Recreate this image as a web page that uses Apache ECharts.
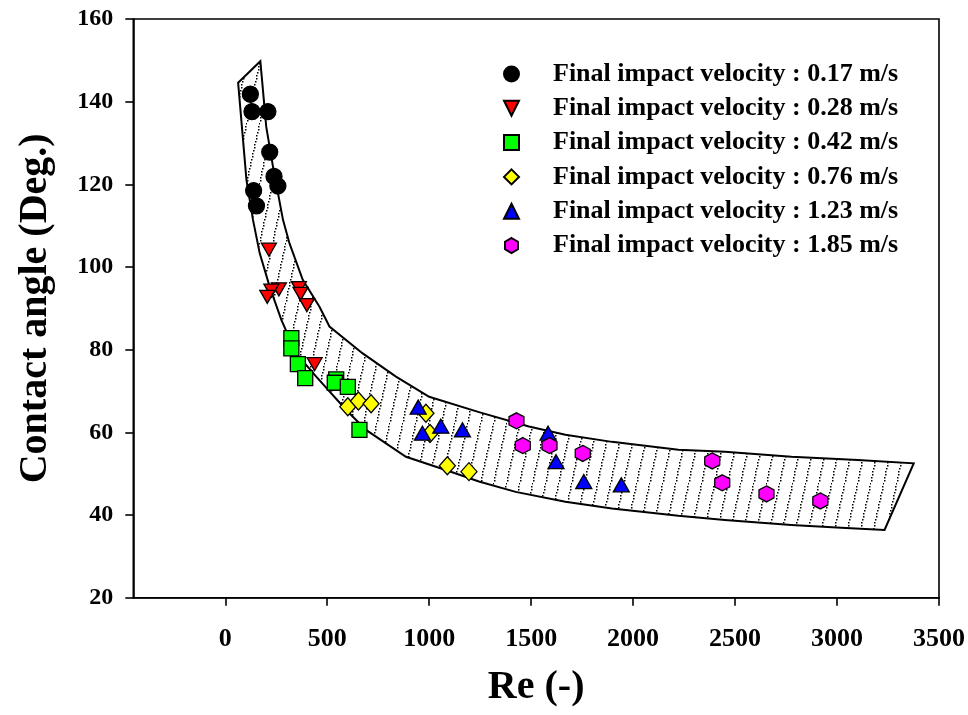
<!DOCTYPE html>
<html>
<head>
<meta charset="utf-8">
<script src="https://cdn.jsdelivr.net/npm/echarts@6/dist/echarts.min.js"></script>
<style>html,body{margin:0;padding:0;background:#fff}#c{width:968px;height:715px}</style>
</head>
<body>
<div id="c"></div>
<script>
// ---- data ----
const xTicks = [0, 500, 1000, 1500, 2000, 2500, 3000, 3500];
const seriesNames = [
  'Final impact velocity : 0.17 m/s',
  'Final impact velocity : 0.28 m/s',
  'Final impact velocity : 0.42 m/s',
  'Final impact velocity : 0.76 m/s',
  'Final impact velocity : 1.23 m/s',
  'Final impact velocity : 1.85 m/s'
];
const re017 = [123, 131, 209, 218, 239, 258, 139, 153];
const ang017 = [141.8, 137.6, 137.6, 127.8, 121.9, 119.6, 118.5, 114.8];
const re028 = [214, 263, 226, 206, 361, 369, 400, 438];
const ang028 = [104.2, 94.6, 94.3, 92.8, 94.9, 93.5, 90.8, 76.5];
const re042 = [324, 324, 356, 392, 544, 537, 601, 658];
const ang042 = [82.8, 80.3, 76.5, 73.1, 72.8, 72.0, 71.0, 60.6];
const re076 = [601, 653, 715, 984, 1004, 1089, 1195];
const ang076 = [66.2, 67.6, 66.9, 64.6, 59.7, 51.9, 50.5];
const re123 = [946, 967, 1057, 1163, 1583, 1622, 1758, 1942];
const ang123 = [66.1, 59.8, 61.5, 60.6, 59.8, 52.9, 48.1, 47.3];
const re185 = [1428, 1459, 1590, 1753, 2388, 2437, 2654, 2918];
const ang185 = [62.8, 56.8, 56.8, 54.9, 53.1, 47.8, 45.1, 43.4];
// band outline (closed polygon: upper edge left->right, lower edge right->left)
const bandRe = [63, 172, 201, 234, 283, 315, 380, 462, 511, 674, 837, 1000, 1244, 1489, 1668, 1896, 2222, 2450, 2776, 3102, 3376,
  3233, 3020, 2776, 2450, 2222, 1896, 1668, 1424, 1244, 1081, 886, 690, 593, 446, 348, 275, 218, 169, 136, 104];
const bandAngle = [144.6, 149.8, 133.9, 124.3, 111.4, 105.7, 96.9, 90.4, 85.6, 79.1, 73.5, 68.6, 64.9, 61.4, 59.4, 57.7, 55.8, 55.3, 54.1, 53.3, 52.5,
  36.4, 36.9, 37.6, 38.8, 39.8, 41.6, 43.2, 45.6, 48.1, 50.9, 54.1, 60.6, 65.4, 73.5, 79.1, 87.2, 95.2, 103.3, 111.4, 121.0];

// ---- hatch pattern (dotted slanted lines) ----
const tile = document.createElement('canvas');
tile.width = 13; tile.height = 60;
const tc = tile.getContext('2d');
tc.fillStyle = '#000';
for (let i = 0; i < 20; i++) {
  const t = i / 20;
  tc.fillRect(Math.floor(13 * t), Math.floor(60 - 60 * t) % 60, 1.5, 1.5);
}

const FONT = "'Liberation Serif','Times New Roman',serif";
const zip = (a, b) => a.map((v, i) => [v, b[i]]);
const hexPath = 'path://M0,-1 L0.866,-0.5 L0.866,0.5 L0,1 L-0.866,0.5 L-0.866,-0.5 Z';
const downTri = 'path://M0,0 L10,0 L5,10 Z';

function sc(name, data, symbol, size, color) {
  return {
    type: 'scatter', name, data, symbol, symbolSize: size, z: 5,
    itemStyle: { color, borderColor: '#000', borderWidth: 1.3, opacity: 1 },
    emphasis: { disabled: true }
  };
}

const chart = echarts.init(document.getElementById('c'), null, { renderer: 'canvas' });
chart.setOption({
  animation: false,
  backgroundColor: '#fff',
  grid: { left: 133.3, right: 26.7, top: 19, bottom: 117.3, show: true, borderColor: '#000', borderWidth: 1.6, containLabel: false },
  xAxis: {
    type: 'value', min: -451, max: 3500,
    name: 'Re (-)', nameLocation: 'middle', nameGap: 70,
    nameTextStyle: { fontFamily: FONT, fontWeight: 'bold', fontSize: 40, color: '#000' },
    axisLine: { show: true, onZero: false, lineStyle: { color: '#000', width: 1.6 } },
    axisTick: { show: true, length: 8, customValues: xTicks, lineStyle: { color: '#000', width: 1.6 } },
    axisLabel: { customValues: xTicks, margin: 29, fontFamily: FONT, fontWeight: 'bold', fontSize: 26, color: '#000',
      formatter: v => String(v) },
    splitLine: { show: false }
  },
  yAxis: {
    type: 'value', min: 20, max: 160, interval: 20,
    name: 'Contact angle (Deg.)', nameLocation: 'middle', nameGap: 78,
    nameTextStyle: { fontFamily: FONT, fontWeight: 'bold', fontSize: 40, color: '#000' },
    axisLine: { show: true, onZero: false, lineStyle: { color: '#000', width: 1.6 } },
    axisTick: { show: true, length: 8, lineStyle: { color: '#000', width: 1.6 } },
    axisLabel: { margin: 20, fontFamily: FONT, fontWeight: 'bold', fontSize: 24, color: '#000' },
    splitLine: { show: false }
  },
  legend: {
    orient: 'vertical', left: 498, top: 56,
    itemWidth: 15, itemHeight: 15, itemGap: 8.3,
    data: seriesNames,
    textStyle: { fontFamily: FONT, fontWeight: 'bold', fontSize: 26, color: '#000', lineHeight: 26, padding: [0, 0, 0, 29] },
    selectedMode: false
  },
  series: [
    {
      type: 'custom', z: 2, silent: true, clip: true,
      data: [0],
      renderItem: function (params, api) {
        const pts = bandRe.map((r, i) => api.coord([r, bandAngle[i]]));
        return {
          type: 'polygon',
          shape: { points: pts },
          style: { fill: { image: tile, repeat: 'repeat' }, stroke: '#000', lineWidth: 2 }
        };
      }
    },
    sc(seriesNames[0], zip(re017, ang017), 'circle', 16, '#000000'),
    sc(seriesNames[1], zip(re028, ang028), downTri, [15, 13], '#FF0000'),
    sc(seriesNames[2], zip(re042, ang042), 'rect', 15, '#00FF00'),
    sc(seriesNames[3], zip(re076, ang076), 'diamond', [16, 18], '#FFFF00'),
    sc(seriesNames[4], zip(re123, ang123), 'triangle', [16, 14], '#0000FF'),
    sc(seriesNames[5], zip(re185, ang185), hexPath, [15, 16], '#FF00FF')
  ]
});
</script>
</body>
</html>
